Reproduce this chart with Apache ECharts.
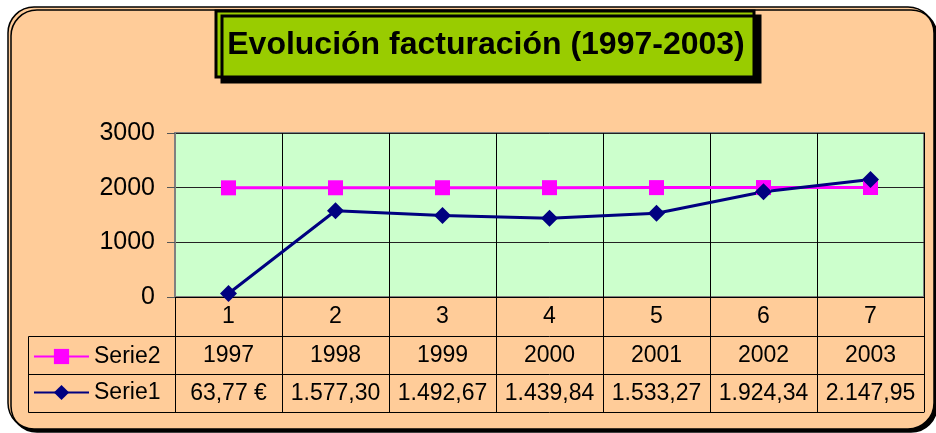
<!DOCTYPE html>
<html>
<head>
<meta charset="utf-8">
<script src="https://cdn.jsdelivr.net/npm/echarts@6/dist/echarts.min.js"></script>
<style>
html, body { margin: 0; background: #fff; }
#chart { width: 936px; height: 433px; }
</style>
</head>
<body>
<div id="chart"></div>
<script>
// datos
const categories = ['1', '2', '3', '4', '5', '6', '7'];
const years = [1997, 1998, 1999, 2000, 2001, 2002, 2003];
const serie1 = [63.77, 1577.30, 1492.67, 1439.84, 1533.27, 1924.34, 2147.95];
const serie2 = years; // Serie2 son los propios años
const yMin = 0, yMax = 3000, yStep = 1000;

// formato español: 1.577,30 (el primero lleva €)
const fmtEs = (v, i) => {
    const parts = v.toFixed(2).split('.');
    const s = parts[0].replace(/\B(?=(\d{3})+(?!\d))/g, '.') + ',' + parts[1];
    return i === 0 ? s + ' €' : s;
};

const FONT = '"Liberation Sans", Arial, sans-serif';
const ROW = 38;

// eje de una fila de la tabla
const tableRow = (data, offset, len, showLabel) => ({
    type: 'category',
    data: data,
    position: 'bottom',
    offset: offset,
    axisLine: { show: true, lineStyle: { color: '#000', width: 1 } },
    axisTick: { show: len > 0, interval: 0, length: len, lineStyle: { color: '#000', width: 1 } },
    axisLabel: { show: showLabel, interval: 0, fontSize: 23, color: '#000', margin: 8, fontFamily: FONT },
    splitLine: { show: false }
});

const chart = echarts.init(document.getElementById('chart'));

const option = {
    animation: false,
    textStyle: { fontFamily: FONT },
    grid: {
        left: 175, right: 12, top: 133, bottom: 136,
        show: true,
        backgroundColor: '#CCFFCC',
        borderColor: '#808080',
        borderWidth: 2
    },
    legend: {
        data: ['Serie2', 'Serie1'],
        orient: 'vertical',
        left: 33,
        top: 345,
        padding: 0,
        itemWidth: 55,
        itemHeight: 19,
        itemGap: 13,
        itemStyle: { borderWidth: 0 },
        textStyle: { fontSize: 23, color: '#000', fontFamily: FONT }
    },
    xAxis: [
        {
            type: 'category',
            data: categories,
            position: 'bottom',
            axisLine: { show: true, lineStyle: { color: '#000', width: 1 } },
            axisTick: { show: true, interval: 0, length: 39, lineStyle: { color: '#000', width: 1 } },
            axisLabel: { interval: 0, fontSize: 23, color: '#000', margin: 8, fontFamily: FONT },
            splitLine: { show: true, interval: 0, lineStyle: { color: '#000', width: 1 } }
        },
        tableRow(years.map(String), 39, ROW, true),
        tableRow(serie1.map(fmtEs), 39 + ROW, ROW, true),
        tableRow(categories, 39 + 2 * ROW, 0, false)
    ],
    yAxis: {
        type: 'value',
        min: yMin,
        max: yMax,
        interval: yStep,
        axisLine: { show: true, lineStyle: { color: '#808080', width: 2 } },
        axisTick: { show: true, length: 8, lineStyle: { color: '#555', width: 1 } },
        axisLabel: {
            fontSize: 25, color: '#000', margin: 20, fontFamily: FONT,
            formatter: (v) => String(v)
        },
        splitLine: { show: true, lineStyle: { color: '#222', width: 1 } }
    },
    series: [
        {
            name: 'Serie2',
            type: 'line',
            data: serie2,
            color: '#FF00FF',
            symbol: 'rect',
            symbolSize: 15,
            showAllSymbol: true,
            lineStyle: { width: 3, color: '#FF00FF' },
            itemStyle: { color: '#FF00FF' }
        },
        {
            name: 'Serie1',
            type: 'line',
            data: serie1,
            color: '#000080',
            symbol: 'diamond',
            symbolSize: 17,
            showAllSymbol: true,
            lineStyle: { width: 3, color: '#000080' },
            itemStyle: { color: '#000080' }
        }
    ],
    graphic: [
        // fondo redondeado
        {
            type: 'rect',
            z: -10,
            shape: { x: 8, y: 7, width: 926, height: 422, r: 26 },
            style: {
                fill: '#FFCC99', stroke: '#000', lineWidth: 1.5,
                shadowColor: '#000', shadowOffsetX: 3, shadowOffsetY: 3, shadowBlur: 0
            }
        },
        // titulo
        {
            type: 'rect',
            z: 10,
            shape: { x: 216, y: 11, width: 538, height: 66 },
            style: {
                fill: '#99CC00', stroke: '#000', lineWidth: 3,
                shadowColor: '#000', shadowOffsetX: 6, shadowOffsetY: 5, shadowBlur: 0
            }
        },
        {
            type: 'text',
            z: 11,
            x: 486,
            y: 45,
            style: {
                text: 'Evolución facturación (1997-2003)',
                font: 'bold 32px ' + FONT,
                fill: '#000',
                align: 'center',
                verticalAlign: 'middle'
            }
        },
        // celda de la leyenda en la tabla
        {
            type: 'rect',
            z: 5,
            shape: { x: 28.5, y: 336.5, width: 147, height: 76 },
            style: { fill: 'none', stroke: '#000', lineWidth: 1 }
        },
        {
            type: 'line',
            z: 5,
            shape: { x1: 28.5, y1: 374.5, x2: 175, y2: 374.5 },
            style: { stroke: '#000', lineWidth: 1 }
        }
    ]
};

option && chart.setOption(option);
</script>
</body>
</html>
